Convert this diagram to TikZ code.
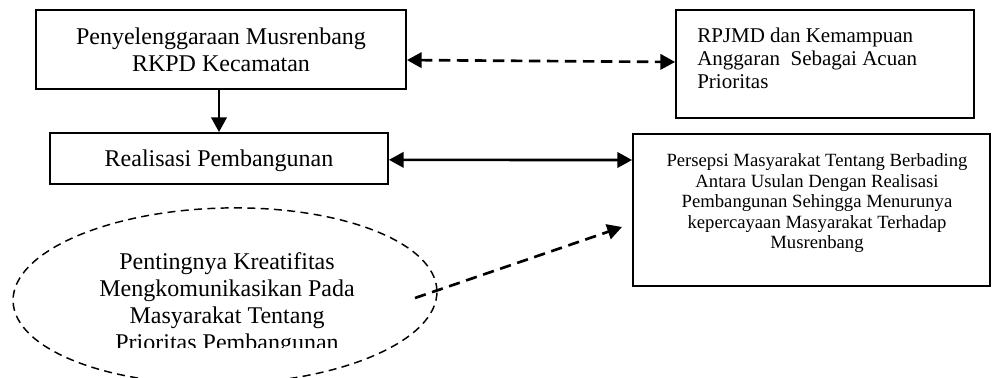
\documentclass[tikz,border=0pt]{standalone}
\usepackage{fontspec}
\setmainfont{Liberation Serif}
\usetikzlibrary{arrows.meta,shapes.geometric}
\newdimen\pxu \pxu=0.75pt
\begin{document}
\begin{tikzpicture}[x=0.75pt,y=-0.75pt,
  box/.style={draw, line width=1.4pt, rectangle, inner sep=0pt},
  tip/.style={Triangle[length=11pt,width=11.5pt]},
  conn/.style={line width=2pt, -{Triangle[length=11pt,width=11.5pt]}},
  bothconn/.style={line width=2pt, {Triangle[length=11pt,width=11.5pt]}-{Triangle[length=11pt,width=11.5pt]}},
  dashconn/.style={dash pattern=on 8.5pt off 5pt},
  bigfont/.style={font=\fontsize{18}{20.25}\selectfont},
  midfont/.style={font=\fontsize{15.75}{17.25}\selectfont},
  smallfont/.style={font=\fontsize{14}{15.4}\selectfont},
  ell/.style={draw, ellipse, line width=1.1pt, dash pattern=on 6pt off 4pt, inner sep=0pt}
]
\clip (0,0) rectangle (992,378);

\node[box, minimum width=370\pxu, minimum height=79\pxu, align=center, bigfont] (b1) at (221,49.5) {Penyelenggaraan Musrenbang\\RKPD Kecamatan};

\node[box, minimum width=338\pxu, minimum height=51\pxu, text depth=0pt, bigfont] (b2) at (219,158.5) {Realisasi Pembangunan};

\node[box, minimum width=298\pxu, minimum height=108\pxu] (b3) at (825,64) {};
\node[anchor=north west, inner sep=0pt, align=left, midfont] (t3) at (697,27.7) {RPJMD dan Kemampuan\\Anggaran~ Sebagai Acuan\\Prioritas};

\node[box, minimum width=357\pxu, minimum height=152\pxu] (b4) at (811.5,210) {};
\node[anchor=north, inner sep=0pt, align=center, smallfont] (t4) at (817,153.3) {Persepsi Masyarakat Tentang Berbading\\Antara Usulan Dengan Realisasi\\Pembangunan Sehingga Menurunya\\kepercayaan Masyarakat Terhadap\\Musrenbang};

\node[ell, minimum width=424\pxu, minimum height=176\pxu, rotate=1.4] (el) at (225,296) {};
\begin{scope}
\clip (0,0) rectangle (992,347);
\node[anchor=north, inner sep=0pt, align=center, bigfont] (te) at (227,251.9) {Pentingnya Kreatifitas\\Mengkomunikasikan Pada\\Masyarakat Tentang\\Prioritas Pembangunan};
\end{scope}

\draw[conn] (b1.south -| b2.north) -- (b2.north);
\draw[bothconn, dashconn] ([yshift=-7.9pt]b1.east) -- ([yshift=1.5pt]b3.west);
\draw[bothconn] ([yshift=-1pt]b2.east) -- ([yshift=37.5pt]b4.west);
\coordinate (e0) at (415,298);
\coordinate (e1) at (622,227);
\draw[conn, dashconn] (e0) -- (e1);
\end{tikzpicture}
\end{document}
